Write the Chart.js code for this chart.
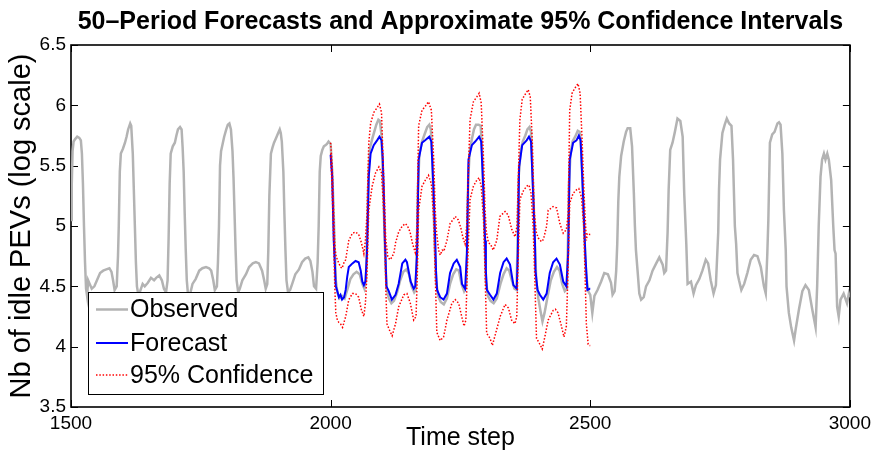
<!DOCTYPE html>
<html>
<head>
<meta charset="utf-8">
<title>50-Period Forecasts</title>
<script src="https://cdn.jsdelivr.net/npm/chart.js@4.4.1/dist/chart.umd.min.js"></script>
<style>
body { margin:0; background:#fff; }
#fc_box { width:876px; height:457px; }
</style>
</head>
<body>
<div id="fc_box"><canvas id="fc_chart" width="876" height="457"></canvas></div>
<script>
//Observed series (time step / log value)
var obsT = [1500,1501.5,1503,1505,1508,1512,1516,1519,1521,1523,1525,1527,1529,1531,1533,1536,1540,1545,1550,1556,1562,1568,1574,1578,1581,1584,1588,1590.5,
	1592,1594,1596,1600,1604,1607,1610,1614,1616,1619,1621,1623,1625,1627,1630,1634,1638,1642,1648,1654,1660,1664,1670,1675,1679,1683,1686,
	1688,1690,1692,1696,1700,1703,1706,1710,1713,1715,1717,1719,1721,1723,1725,1729,1734,1740,1747,1753,1760,1766,1770,1774,1777,1781,1783,
	1785,1787,1789,1792,1795,1799,1802,1805,1808,1811,1813,1815,1817,1819,1822,1825,1830,1837,1843,1850,1856,1862,1868,1872,1875,1878,
	1880,1882,1885,1888,1891,1895,1898,1902,1904,1906,1909,1911,1913,1915,1918,1922,1926,1932,1939,1945,1951,1957,1961,1965,1968,1972,1975,
	1977,1979,1981,1984,1987,1990,1993,1996,1998,2000,2003,2006,2008,2010,2013,2017,2022,2027,2032,2038,2044,2050,2056,2061,2065,2068,
	2070,2073,2076,2080,2084,2088,2092,2095,2098,2100,2102,2104,2106,2108,2112,2117,2122,2128,2134,2140,2146,2151,2156,2161,2164,
	2166,2168,2171,2176,2181,2186,2190,2193,2196,2198,2200,2203,2207,2212,2218,2224,2230,2236,2242,2247,2252,2257,2261,
	2263,2265,2268,2272,2276,2280,2285,2289,2292,2294,2297,2299,2303,2308,2314,2320,2327,2333,2339,2344,2349,2354,2358,
	2360,2362,2366,2370,2375,2379,2383,2386,2388,2391,2393,2396,2400,2404,2408,2412,2418,2424,2430,2436,2441,2446,2451,2455,
	2457,2459,2462,2466,2471,2476,2480,2483,2486,2489,2492,2496,2500,2504,2508,2514,2521,2527,2534,2540,2543,2547,2550,
	2552,2554,2556,2559.5,2564.5,2569,2572,2577,2580.5,2584,2586,2588,2591.5,2594.5,2598,2603,2607.5,2614,2620,2627,2633,2639.5,2642.5,2646,
	2649,2651,2654,2658.5,2663,2668,2673.5,2678,2681,2685,2687.5,2694,2699,2703.5,2710,2716,2722.5,2727,2732,2737.5,2742,
	2746.5,2748,2750,2754.5,2759,2763,2767.5,2772,2775,2778.5,2781,2783.5,2786.5,2791,2796.5,2802.5,2809,2815.5,2822,2828.5,2834.5,2838,2841,
	2843,2846,2850.5,2855,2860.5,2863.5,2866.5,2870,2873,2876.5,2878,2882.5,2887,2892.5,2895.5,2902,2908.5,2914.5,2921,2927.5,2934,2937,
	2940,2943.5,2946.5,2950,2953,2956.5,2959.5,2964,2968,2970.5,2972.5,2975.5,2978.5,2982,2988,2994.5,2998,3000];
var obsV = [5.05,5.35,5.62,5.70,5.72,5.74,5.73,5.71,5.60,5.35,5.00,4.70,4.48,4.42,4.55,4.52,4.48,4.50,4.55,4.61,4.63,4.64,4.65,4.62,4.55,4.47,4.50,4.75,
	5.00,5.45,5.60,5.64,5.69,5.74,5.80,5.85,5.83,5.60,5.30,5.00,4.70,4.50,4.42,4.47,4.52,4.50,4.53,4.57,4.55,4.57,4.59,4.55,4.48,4.45,4.55,
	4.90,5.35,5.60,5.66,5.69,5.75,5.80,5.82,5.80,5.65,5.45,5.10,4.80,4.55,4.45,4.43,4.52,4.56,4.63,4.65,4.66,4.65,4.63,4.55,4.47,4.50,4.70,
	5.00,5.50,5.62,5.68,5.74,5.80,5.84,5.85,5.80,5.62,5.40,5.10,4.80,4.55,4.45,4.48,4.55,4.60,4.66,4.69,4.70,4.69,4.63,4.55,4.48,4.52,
	4.80,5.25,5.60,5.65,5.69,5.73,5.76,5.80,5.77,5.70,5.45,5.10,4.80,4.55,4.45,4.47,4.52,4.60,4.64,4.70,4.73,4.74,4.71,4.62,4.50,4.48,4.70,
	5.00,5.45,5.58,5.63,5.66,5.67,5.68,5.70,5.69,5.68,5.45,5.10,4.80,4.55,4.45,4.40,4.42,4.40,4.47,4.56,4.60,4.62,4.60,4.52,4.48,4.55,
	4.90,5.45,5.65,5.72,5.78,5.84,5.88,5.87,5.75,5.50,5.20,4.90,4.65,4.48,4.40,4.36,4.38,4.45,4.55,4.62,4.64,4.60,4.50,4.45,4.47,
	4.80,5.30,5.60,5.70,5.76,5.82,5.84,5.80,5.55,5.20,4.90,4.55,4.42,4.37,4.35,4.40,4.52,4.60,4.64,4.63,4.52,4.46,4.50,
	4.85,5.40,5.62,5.72,5.80,5.84,5.84,5.83,5.60,5.25,4.90,4.55,4.42,4.38,4.36,4.40,4.52,4.60,4.65,4.63,4.55,4.48,4.47,
	4.85,5.40,5.62,5.70,5.75,5.80,5.82,5.78,5.55,5.20,4.90,4.55,4.40,4.30,4.21,4.28,4.42,4.55,4.62,4.66,4.63,4.52,4.46,4.48,
	4.85,5.35,5.60,5.70,5.74,5.79,5.78,5.60,5.25,4.90,4.60,4.46,4.43,4.28,4.42,4.47,4.54,4.61,4.60,4.53,4.43,4.46,4.63,
	4.85,5.20,5.41,5.58,5.70,5.78,5.81,5.81,5.66,5.27,5.00,4.80,4.61,4.44,4.39,4.41,4.50,4.55,4.63,4.69,4.74,4.68,4.61,4.63,
	4.95,5.30,5.63,5.69,5.78,5.89,5.87,5.74,5.27,4.85,4.52,4.54,4.44,4.51,4.56,4.63,4.72,4.69,4.55,4.44,4.51,
	4.95,5.30,5.55,5.77,5.84,5.89,5.85,5.83,5.55,5.00,4.85,4.61,4.55,4.47,4.52,4.61,4.72,4.76,4.75,4.66,4.50,4.44,4.77,
	5.05,5.69,5.76,5.78,5.85,5.86,5.84,5.60,5.13,4.80,4.50,4.28,4.16,4.05,4.14,4.31,4.46,4.51,4.47,4.31,4.16,4.50,
	5.00,5.41,5.55,5.60,5.55,5.60,5.55,5.38,5.00,4.80,4.77,4.33,4.25,4.39,4.44,4.36,4.44,4.41];

//Forecast
var fcT = [2000,2003,2006,2008,2010,2013,2016,2019,2022,2026,2029,2032,2035,2042,2048,2054,2058,2061,2064,2067,
	2070,2073.5,2077,2083,2089.5,2094,2098,2100.5,2102.5,2104.5,2105.5,2107.5,2112,2118,2125,2131,2138,2144,2147,2154,2160,2163,
	2166.5,2169.5,2176,2182,2190,2194,2198.5,2201.5,2203,2205,2211,2217.5,2224,2230,2237,2243,2249.5,2253,2259,
	2262.5,2265.5,2272,2278.5,2286,2290,2294.5,2297.5,2299,2301,2307,2313.5,2320,2326.5,2333,2339,2345.5,2352,2358.5,
	2360.5,2363,2369,2377.5,2382,2386,2390,2393.5,2394.5,2398.5,2403,2409.5,2416,2422,2428.5,2435,2441.5,2448,2454,
	2457.5,2460.5,2467,2473.5,2478,2481.5,2486,2489.5,2490.5,2494.5,2499,2500];
var fcV = [5.59,5.41,4.88,4.70,4.50,4.46,4.41,4.43,4.39,4.41,4.47,4.58,4.66,4.69,4.71,4.70,4.63,4.54,4.51,4.54,
	4.77,5.41,5.60,5.67,5.71,5.74,5.71,5.55,5.27,4.88,4.77,4.50,4.46,4.39,4.43,4.52,4.69,4.72,4.70,4.54,4.48,4.50,
	4.77,5.55,5.69,5.71,5.74,5.70,5.27,4.88,4.63,4.47,4.41,4.39,4.44,4.61,4.69,4.72,4.66,4.52,4.48,
	4.77,5.55,5.67,5.70,5.74,5.70,5.27,4.88,4.63,4.47,4.43,4.39,4.44,4.61,4.70,4.73,4.68,4.51,4.48,
	4.77,5.49,5.67,5.71,5.74,5.70,5.27,4.88,4.63,4.47,4.43,4.39,4.44,4.61,4.70,4.73,4.68,4.54,4.50,
	4.77,5.55,5.69,5.71,5.75,5.71,5.27,4.88,4.77,4.47,4.48,4.48];

//95% confidence, upper bound
var upT = [2000,2003,2006,2008,2010,2013,2016,2019,2022,2026,2029,2032,2035,2042,2048,2054,2058,2061,2064,2067,
	2070,2073.5,2077,2083,2089.5,2094,2098,2101,2104.5,2106,2110,2114,2118,2122,2125,2131,2138,2144,2148,2153,2158,2163,
	2166,2169.5,2176,2182,2188.5,2194,2198.5,2201.5,2204,2208,2211,2215,2218,2224,2230,2237,2240,2246,2251,2255,2259,
	2262,2268.5,2275,2281.5,2286,2290,2294.5,2297.5,2300,2304,2308,2313,2320,2326,2336,2342,2349,2355,
	2359,2364.5,2369,2374.5,2380.5,2384.5,2388.5,2392,2396,2400,2406,2410,2416,2419,2428.5,2435,2441.5,2448,2454,
	2457.5,2460.5,2465,2470,2476.5,2480.5,2484.5,2488,2492.5,2494.5,2499,2500];
var upV = [5.69,5.50,5.10,4.85,4.76,4.72,4.69,4.66,4.65,4.70,4.72,4.80,4.88,4.94,4.95,4.93,4.88,4.83,4.77,4.88,
	5.10,5.69,5.85,5.94,5.98,6.01,5.94,5.55,5.13,4.90,4.75,4.72,4.74,4.78,4.86,4.95,5.00,5.02,5.00,4.95,4.85,4.78,
	4.95,5.83,5.96,5.99,6.03,5.96,5.55,5.13,4.95,4.80,4.76,4.80,4.79,4.88,5.02,5.06,5.08,5.05,4.98,4.90,4.85,
	5.00,5.88,6.03,6.07,6.10,6.02,5.55,5.13,4.95,4.86,4.85,4.80,4.88,5.08,5.12,5.09,4.97,4.91,
	5.00,5.88,6.05,6.09,6.13,6.07,5.69,5.13,4.95,4.90,4.87,4.89,5.00,5.13,5.16,5.15,5.02,4.94,4.97,
	5.10,5.96,6.10,6.14,6.18,6.10,5.69,5.27,4.88,4.94,4.93,4.93];

//95% confidence, lower bound
var loT = [2000,2003,2006,2008,2010,2013,2016,2019,2023,2029,2035,2042,2048,2054,2059,2064,2067,
	2070,2073.5,2080,2086.5,2093,2098,2101,2104.5,2106.5,2108.5,2113,2118.5,2125,2131,2141,2147,2153.5,2160,2164.5,
	2167,2169.5,2176,2182.5,2188.5,2194,2198.5,2201.5,2204.5,2211,2217.5,2224,2233.5,2240,2246.5,2252.5,2257,2260.5,
	2263,2268.5,2275,2281.5,2286,2290,2294.5,2297.5,2300.5,2307,2311.5,2316.5,2326.5,2336,2342.5,2348.5,2355,2358.5,
	2360.5,2364.5,2371,2377.5,2382,2386,2390,2393,2396.5,2403,2407.5,2412.5,2419,2428.5,2433,2438,2444.5,2449.5,2454,
	2457,2460.5,2467,2473.5,2478,2483,2487.5,2490,2492.5,2496,2499,2500];
var loV = [5.60,5.30,4.85,4.50,4.28,4.22,4.20,4.19,4.16,4.25,4.39,4.44,4.44,4.41,4.31,4.25,4.36,
	4.60,5.13,5.33,5.44,5.49,5.44,5.22,4.88,4.45,4.19,4.14,4.09,4.19,4.33,4.43,4.44,4.36,4.22,4.25,
	4.60,5.13,5.33,5.38,5.42,5.35,5.05,4.60,4.12,4.05,4.08,4.22,4.36,4.39,4.36,4.25,4.17,4.22,
	4.60,5.22,5.33,5.38,5.40,5.33,5.05,4.60,4.11,4.07,4.01,4.09,4.25,4.35,4.32,4.22,4.19,4.25,
	4.60,5.22,5.29,5.33,5.34,5.27,5.00,4.60,4.07,4.02,3.98,4.08,4.22,4.30,4.31,4.28,4.17,4.08,4.17,
	4.60,5.19,5.27,5.30,5.31,5.24,5.00,4.60,4.19,4.02,4.01,4.01];

var fc_xTicks = [1500,2000,2500,3000];
var fc_yTicks = [3.5,4,4.5,5,5.5,6,6.5];
var fc_legendLabels = ['Observed','Forecast','95% Confidence'];
var fc_title = '50\u2013Period Forecasts and Approximate 95% Confidence Intervals';

function fc_points(xs, ys)
{
	var pts = [];
	for(var i = 0; i < xs.length; i++)
		pts.push({x: xs[i], y: ys[i]});
	return pts;
}

//box with inward ticks on all four sides (matlab look)
var fc_box_plugin = {
	id: 'fc_box',
	beforeDatasetsDraw: function(chart)
	{
		var ctx = chart.ctx, a = chart.chartArea;
		var xs = chart.scales.x, ys = chart.scales.y;
		var tl = 7;
		ctx.save();
		ctx.strokeStyle = '#000';
		ctx.lineWidth = 1;
		ctx.beginPath();
		fc_xTicks.forEach(function(v){
			var px = Math.round(xs.getPixelForValue(v)) + 0.5;
			ctx.moveTo(px, a.bottom); ctx.lineTo(px, a.bottom - tl);
			ctx.moveTo(px, a.top); ctx.lineTo(px, a.top + tl);
		});
		fc_yTicks.forEach(function(v){
			var py = Math.round(ys.getPixelForValue(v)) + 0.5;
			ctx.moveTo(a.left, py); ctx.lineTo(a.left + tl, py);
			ctx.moveTo(a.right, py); ctx.lineTo(a.right - tl, py);
		});
		ctx.stroke();
		ctx.lineWidth = 1.6;
		ctx.strokeRect(a.left, a.top, a.right - a.left, a.bottom - a.top);
		ctx.restore();
	},
	//title centred over the plot box, not over the whole canvas
	afterDraw: function(chart)
	{
		var ctx = chart.ctx, a = chart.chartArea;
		ctx.save();
		ctx.font = 'bold 25px "Liberation Sans", Arial, sans-serif';
		ctx.fillStyle = '#000';
		ctx.textAlign = 'center';
		ctx.textBaseline = 'alphabetic';
		ctx.fillText(fc_title, (a.left + a.right) / 2, a.top - 16);
		ctx.restore();
	}
};

//legend box drawn inside the plot, over the data
var fc_legend_plugin = {
	id: 'fc_legend',
	afterDatasetsDraw: function(chart)
	{
		var ctx = chart.ctx, a = chart.chartArea;
		var bx = a.left + 17, by = a.top + 247, bw = 235, bh = 102;
		var rows = [17.5, 51, 83];
		ctx.save();
		ctx.fillStyle = '#fff';
		ctx.fillRect(bx, by, bw, bh);
		ctx.strokeStyle = '#000';
		ctx.lineWidth = 1;
		ctx.strokeRect(bx + 0.5, by + 0.5, bw, bh);
		ctx.font = '25px "Liberation Sans", Arial, sans-serif';
		ctx.textBaseline = 'middle';
		ctx.fillStyle = '#000';
		for(var i = 0; i < fc_legendLabels.length; i++)
		{
			var ds = chart.data.datasets[i];
			ctx.beginPath();
			ctx.strokeStyle = ds.borderColor;
			ctx.lineWidth = ds.borderWidth;
			ctx.setLineDash(ds.borderDash || []);
			ctx.moveTo(bx + 8, by + rows[i]);
			ctx.lineTo(bx + 40, by + rows[i]);
			ctx.stroke();
			ctx.setLineDash([]);
			ctx.fillText(fc_legendLabels[i], bx + 42, by + rows[i] + 1);
		}
		ctx.restore();
	}
};

Chart.defaults.color = '#000';
Chart.defaults.font.family = '"Liberation Sans", Arial, Helvetica, sans-serif';

var fc_ctx = document.getElementById('fc_chart').getContext('2d');
var fc_chart = new Chart(fc_ctx, {
	type: 'line',
	data: {
		datasets: [
			{ label: 'Observed', data: fc_points(obsT, obsV), borderColor: 'rgb(179,179,179)', borderWidth: 2.5, order: 3 },
			{ label: 'Forecast', data: fc_points(fcT, fcV), borderColor: 'rgb(0,0,255)', borderWidth: 2, order: 2 },
			{ label: '95% Confidence', data: fc_points(upT, upV), borderColor: 'rgb(255,0,0)', borderWidth: 1.5, borderDash: [1.5, 1.8], order: 1 },
			{ label: 'lower', data: fc_points(loT, loV), borderColor: 'rgb(255,0,0)', borderWidth: 1.5, borderDash: [1.5, 1.8], order: 1 }
		]
	},
	options: {
		responsive: false,
		animation: false,
		devicePixelRatio: 1,
		elements: { point: { radius: 0 }, line: { tension: 0, fill: false } },
		layout: { padding: { left: 0, right: 23, top: 45, bottom: 0 } },
		plugins: {
			legend: { display: false },
			tooltip: { enabled: false },
			title: { display: false }
		},
		scales: {
			x: {
				type: 'linear', min: 1500, max: 3000,
				grid: { display: false, drawTicks: false },
				border: { display: false },
				afterBuildTicks: function(s){ s.ticks = fc_xTicks.map(function(v){ return {value: v}; }); },
				ticks: { font: { size: 19 }, padding: 5, maxRotation: 0, callback: function(v){ return String(v); } },
				title: { display: true, text: 'Time step', font: { size: 25 }, padding: { top: 0, bottom: 4 } },
				afterFit: function(s){ s.height = 50; }
			},
			y: {
				type: 'linear', min: 3.5, max: 6.5,
				grid: { display: false, drawTicks: false },
				border: { display: false },
				afterBuildTicks: function(s){ s.ticks = fc_yTicks.map(function(v){ return {value: v}; }); },
				ticks: { font: { size: 19 }, padding: 5, callback: function(v){ return String(v); } },
				title: { display: true, text: 'Nb of idle PEVs (log scale)', font: { size: 29 }, padding: { top: 5, bottom: 0 } },
				afterFit: function(s){ s.width = 71; }
			}
		}
	},
	plugins: [fc_box_plugin, fc_legend_plugin]
});
</script>
</body>
</html>
